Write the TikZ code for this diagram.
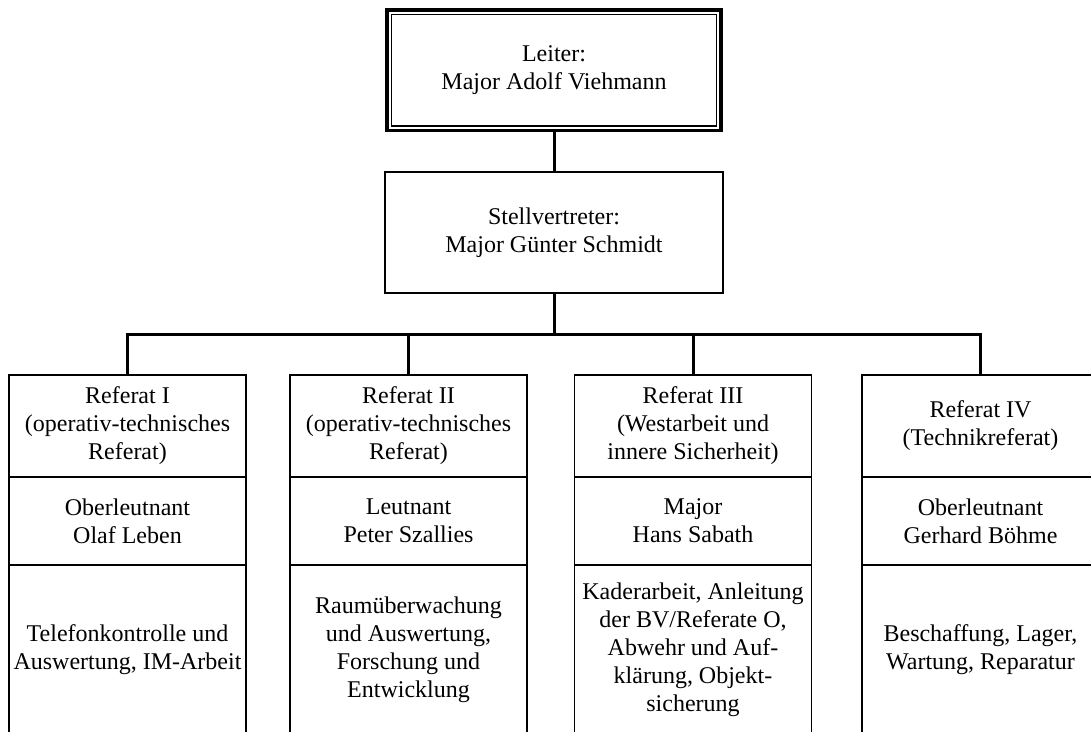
\documentclass[tikz,border=0pt]{standalone}
\usepackage{fontspec}
\setmainfont{Liberation Serif}
\begin{document}
\begin{tikzpicture}[x=1pt,y=-1pt,
  every node/.style={inner sep=0pt,outer sep=0pt,align=center,
    font=\fontsize{24}{28}\selectfont},
  chiefbox/.style={draw,line width=3.6pt,minimum width=334pt,minimum height=120.5pt},
  deputybox/.style={draw,line width=1.4pt,minimum width=338pt,minimum height=121pt},
  cell/.style={draw,line width=1.4pt,minimum width=237pt},
  headcell/.style={cell,minimum height=102pt},
  namecell/.style={cell,minimum height=88pt},
  taskcell/.style={cell,minimum height=170pt},
  conn/.style={line width=3pt}]
\useasboundingbox (0,0) rectangle (1091,731);
\clip (0,0) rectangle (1091,731);

% head of the unit
\node[chiefbox] (chief) at (554,70.1) {Leiter:\\Major Adolf Viehmann};
\draw[line width=1.2pt] ([xshift=4.4pt,yshift=-4.4pt]chief.north west)
  rectangle ([xshift=-4.4pt,yshift=4.4pt]chief.south east);

% deputy
\node[deputybox] (deputy) at (554,232.5) {Stellvertreter:\\Major Günter Schmidt};

% the four sections: title, head, tasks
\node[headcell] (r1a) at (127.5,426) {Referat I\\(operativ-technisches\\Referat)};
\node[namecell] (r1b) at (127.5,521) {Oberleutnant\\Olaf Leben};
\node[taskcell] (r1c) at (127.5,650) {Telefonkontrolle und\\Auswertung, IM-Arbeit};

\node[headcell] (r2a) at (408.5,426) {Referat II\\(operativ-technisches\\Referat)};
\node[namecell] (r2b) at (408.5,521) {Leutnant\\Peter Szallies};
\node[taskcell] (r2c) at (408.5,650) {Raumüberwachung\\und Auswertung,\\Forschung und\\Entwicklung};

\node[headcell] (r3a) at (693,426) {Referat III\\(Westarbeit und\\innere Sicherheit)};
\node[namecell] (r3b) at (693,521) {Major\\Hans Sabath};
\node[taskcell] (r3c) at (693,650) {Kaderarbeit, Anleitung\\der BV/Referate O,\\Abwehr und Auf-\\klärung, Objekt-\\sicherung};

\node[headcell] (r4a) at (980.5,426) {Referat IV\\(Technikreferat)};
\node[namecell] (r4b) at (980.5,521) {Oberleutnant\\Gerhard Böhme};
\node[taskcell] (r4c) at (980.5,650) {Beschaffung, Lager,\\Wartung, Reparatur};

% connectors
\coordinate (bus) at (554,334.5);
\draw[conn] (chief.south) -- (deputy.north);
\draw[conn] (deputy.south) -- (bus);
\draw[conn] (r1a.north) |- (bus);
\draw[conn] (r2a.north) |- (bus);
\draw[conn] (r3a.north) |- (bus);
\draw[conn] (r4a.north) |- (bus);
\end{tikzpicture}
\end{document}
